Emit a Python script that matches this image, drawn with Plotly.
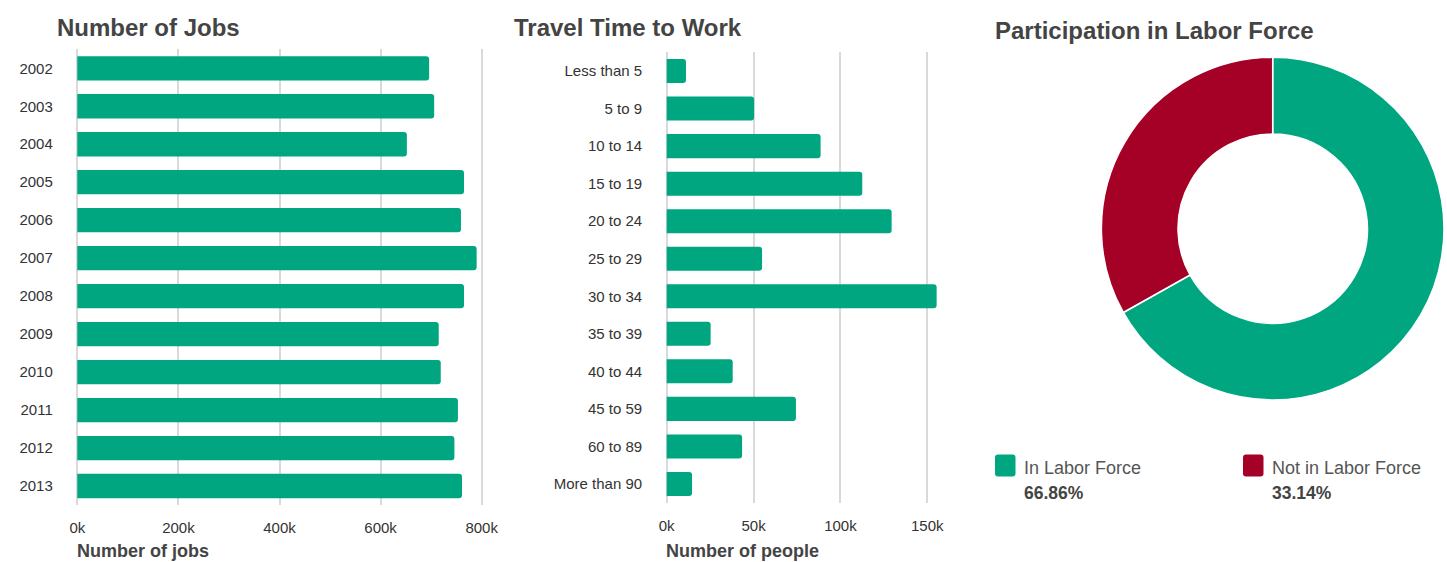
import plotly.graph_objects as go

W, H = 1447, 562

# ---- data ----
years = ["2002", "2003", "2004", "2005", "2006", "2007", "2008", "2009", "2010", "2011", "2012", "2013"]
jobs_k = [696, 706, 652, 765, 759, 790, 765, 715, 719, 753, 746, 761]
jobs_ticks = [0, 200, 400, 600, 800]

travel_cats = ["Less than 5", "5 to 9", "10 to 14", "15 to 19", "20 to 24", "25 to 29",
               "30 to 34", "35 to 39", "40 to 44", "45 to 59", "60 to 89", "More than 90"]
travel_k = [11.1, 50.3, 88.6, 112.6, 129.5, 54.9, 155.4, 25.3, 38.0, 74.4, 43.4, 14.6]
travel_ticks = [0, 50, 100, 150]

labor_labels = ["In Labor Force", "Not in Labor Force"]
labor_pct = [66.86, 33.14]

GREEN = "#00a680"
RED = "#a50026"
GRID = "#d9d9d9"
FONT = "Helvetica Neue, Liberation Sans, Arial, sans-serif"


def px(x):
    return x / W


def py(y):
    return 1 - y / H


fig = go.Figure()

fig.add_trace(go.Bar(
    x=jobs_k, y=years, orientation="h", xaxis="x", yaxis="y",
    marker=dict(color=GREEN, cornerradius=3, line=dict(width=0)),
    name="Number of jobs", showlegend=False,
))
fig.add_trace(go.Bar(
    x=travel_k, y=travel_cats, orientation="h", xaxis="x2", yaxis="y2",
    marker=dict(color=GREEN, cornerradius=3, line=dict(width=0)),
    name="Number of people", showlegend=False,
))
fig.add_trace(go.Pie(
    labels=labor_labels, values=labor_pct, hole=0.553, sort=False,
    direction="clockwise", rotation=0, textinfo="none",
    marker=dict(colors=[GREEN, RED], line=dict(color="white", width=1.5)),
    domain=dict(x=[px(1272.7 - 171.3), px(1272.7 + 171.3)], y=[py(400), py(57.3)]),
    showlegend=False,
))

tickfont = dict(family=FONT, size=15, color="#333333")
common_x = dict(showgrid=True, gridcolor=GRID, gridwidth=2, zeroline=False, showline=False,
                ticks="", tickfont=tickfont, ticklabelstandoff=12, fixedrange=True,
                tickmode="array", automargin=False)
common_y = dict(showgrid=False, zeroline=False, showline=False, ticks="", tickfont=tickfont,
                autorange="reversed", fixedrange=True, automargin=False)

# x-axis ranges start slightly below zero so the zero gridline is drawn
x1_lo, x1_hi = -5, 802
x2_lo, x2_hi = -1.5, 158
d1_lo = 77.3 + x1_lo * 0.5055
d2_lo = 666.7 + x2_lo * 1.737

fig.update_layout(
    width=W, height=H,
    margin=dict(l=0, r=0, t=0, b=0, pad=0, autoexpand=False),
    paper_bgcolor="white", plot_bgcolor="white",
    bargap=0.36,
    font=dict(family=FONT, color="#333333"),
    xaxis=dict(domain=[px(d1_lo), px(77.3 + x1_hi * 0.5055)], range=[x1_lo, x1_hi],
               tickvals=jobs_ticks, ticktext=[f"{v}k" for v in jobs_ticks],
               anchor="y", **common_x),
    yaxis=dict(domain=[py(505), py(49.3)], anchor="x", ticklabelstandoff=21, **common_y),
    xaxis2=dict(domain=[px(d2_lo), px(666.7 + x2_hi * 1.737)], range=[x2_lo, x2_hi],
                tickvals=travel_ticks, ticktext=[f"{v}k" for v in travel_ticks],
                anchor="y2", **common_x),
    yaxis2=dict(domain=[py(502.7), py(52.3)], anchor="x2", ticklabelstandoff=21, **common_y),
)

title_font = dict(family=FONT, size=24, color="#444444")
ann = []
ann.append(dict(text="<b>Number of Jobs</b>", x=px(55), y=py(27), xref="paper", yref="paper",
                xanchor="left", yanchor="middle", showarrow=False, font=title_font))
ann.append(dict(text="<b>Travel Time to Work</b>", x=px(512), y=py(27), xref="paper", yref="paper",
                xanchor="left", yanchor="middle", showarrow=False, font=title_font))
ann.append(dict(text="<b>Participation in Labor Force</b>", x=px(993), y=py(30), xref="paper",
                yref="paper", xanchor="left", yanchor="middle", showarrow=False, font=title_font))

axis_title_font = dict(family=FONT, size=18, color="#444444")
ann.append(dict(text="<b>Number of jobs</b>", x=px(75), y=py(551), xref="paper", yref="paper",
                xanchor="left", yanchor="middle", showarrow=False, font=axis_title_font))
ann.append(dict(text="<b>Number of people</b>", x=px(664), y=py(551), xref="paper", yref="paper",
                xanchor="left", yanchor="middle", showarrow=False, font=axis_title_font))

shapes = []
legend_x = [995, 1243]
colors = [GREEN, RED]
for i, lab in enumerate(labor_labels):
    x0 = legend_x[i]
    x1 = x0 + 20.5
    y0, y1 = 454.5, 476.5
    r = 3
    X0, X1 = px(x0), px(x1)
    rx, ry = r / W, r / H
    Y0, Y1 = py(y1), py(y0)
    path = (f"M {X0+rx},{Y0} L {X1-rx},{Y0} Q {X1},{Y0} {X1},{Y0+ry} L {X1},{Y1-ry} "
            f"Q {X1},{Y1} {X1-rx},{Y1} L {X0+rx},{Y1} Q {X0},{Y1} {X0},{Y1-ry} "
            f"L {X0},{Y0+ry} Q {X0},{Y0} {X0+rx},{Y0} Z")
    shapes.append(dict(type="path", path=path, xref="paper", yref="paper",
                       fillcolor=colors[i], line=dict(width=0)))
    ann.append(dict(text=lab, x=px(x0 + 27), y=py(468), xref="paper", yref="paper",
                    xanchor="left", yanchor="middle", showarrow=False,
                    font=dict(family=FONT, size=18, color="#555555")))
    ann.append(dict(text=f"<b>{labor_pct[i]:.2f}%</b>", x=px(x0 + 27), y=py(493), xref="paper",
                    yref="paper", xanchor="left", yanchor="middle", showarrow=False,
                    font=dict(family=FONT, size=17.5, color="#444444")))

fig.update_layout(annotations=ann, shapes=shapes)

fig.write_html(
    "out.html",
    config={"displayModeBar": False},
    post_script="document.body.style.margin='0';document.body.style.overflow='hidden';",
)
